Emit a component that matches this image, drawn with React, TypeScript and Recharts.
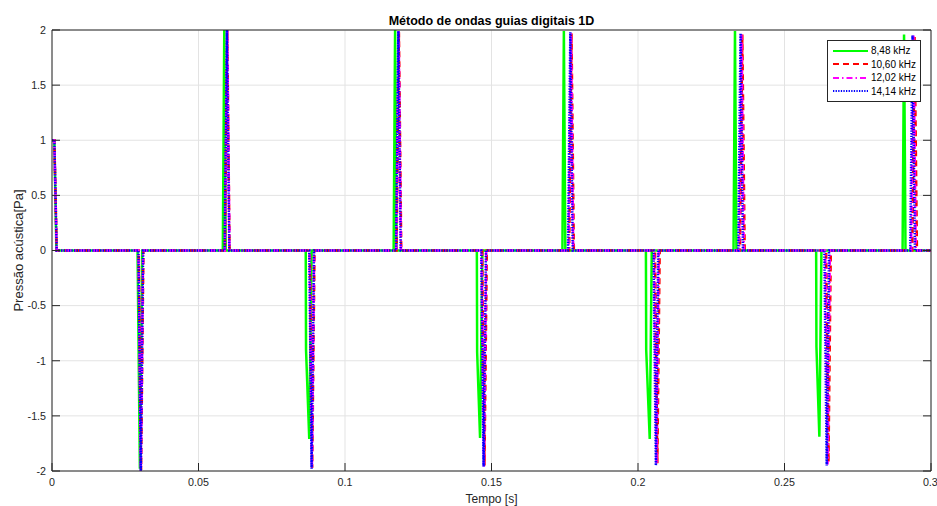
import { CartesianGrid, Legend, Line, LineChart, XAxis, YAxis } from 'recharts'

const titulo = 'Método de ondas guias digitais 1D'
const rotuloX = 'Tempo [s]'
const rotuloY = 'Pressão acústica[Pa]'

const xTicks = [0, 0.05, 0.1, 0.15, 0.2, 0.25, 0.3]
const yTicks = [-2, -1.5, -1, -0.5, 0, 0.5, 1, 1.5, 2]

// 8,48 kHz
const tempo848 = [
  0, 0.0008, 0.0015,
  0.0292, 0.03, 0.0308,
  0.0583, 0.0588, 0.0593,
  0.0866, 0.0867, 0.0878, 0.0886,
  0.1166, 0.1171, 0.1176,
  0.145, 0.1451, 0.1461, 0.1469,
  0.1742, 0.1747, 0.1752,
  0.2027, 0.2028, 0.204, 0.2047,
  0.2326, 0.2331, 0.2336,
  0.2608, 0.2609, 0.2619, 0.2626,
  0.2903, 0.2908, 0.2913,
  0.3,
]
const pressao848 = [
  1, 1, 0,
  0, -1.98, 0,
  0, 2, 0,
  0, -0.9, -1.71, 0,
  0, 2, 0,
  0, -0.92, -1.7, 0,
  0, 1.99, 0,
  0, -0.9, -1.71, 0,
  0, 1.99, 0,
  0, -0.87, -1.69, 0,
  0, 1.96, 0,
  0,
]

// 10,60 kHz
const tempo1060 = [
  0, 0.0008, 0.0016,
  0.0296, 0.0304, 0.0312,
  0.059, 0.0598, 0.0606,
  0.088, 0.0888, 0.0896,
  0.1176, 0.1184, 0.1192,
  0.1468, 0.1476, 0.1484,
  0.1765, 0.1773, 0.1781,
  0.2058, 0.2066, 0.2074,
  0.2348, 0.2356, 0.2364,
  0.2642, 0.265, 0.2658,
  0.2936, 0.2944, 0.2952,
  0.3,
]
const pressao1060 = [
  1, 1, 0,
  0, -1.99, 0,
  0, 2, 0,
  0, -1.97, 0,
  0, 1.98, 0,
  0, -1.95, 0,
  0, 1.97, 0,
  0, -1.93, 0,
  0, 1.96, 0,
  0, -1.92, 0,
  0, 1.94, 0,
  0,
]

// 12,02 kHz
const tempo1202 = [
  0, 0.0008, 0.0016,
  0.0295, 0.0303, 0.0311,
  0.059, 0.0598, 0.0606,
  0.0879, 0.0887, 0.0895,
  0.1175, 0.1183, 0.1191,
  0.1466, 0.1474, 0.1482,
  0.1763, 0.1771, 0.1779,
  0.2055, 0.2063, 0.2071,
  0.2345, 0.2353, 0.2361,
  0.2639, 0.2647, 0.2655,
  0.2932, 0.294, 0.2948,
  0.3,
]
const pressao1202 = [
  1, 1, 0,
  0, -2, 0,
  0, 2, 0,
  0, -1.97, 0,
  0, 1.99, 0,
  0, -1.96, 0,
  0, 1.97, 0,
  0, -1.94, 0,
  0, 1.96, 0,
  0, -1.94, 0,
  0, 1.95, 0,
  0,
]

// 14,14 kHz
const tempo1414 = [
  0, 0.0008, 0.0016,
  0.0295, 0.0303, 0.0311,
  0.0589, 0.0597, 0.0605,
  0.0878, 0.0886, 0.0894,
  0.1174, 0.1182, 0.119,
  0.1465, 0.1473, 0.1481,
  0.1761, 0.1769, 0.1777,
  0.2053, 0.2061, 0.2069,
  0.2342, 0.235, 0.2358,
  0.2636, 0.2644, 0.2652,
  0.2929, 0.2937, 0.2945,
  0.3,
]
const pressao1414 = [
  1, 1, 0,
  0, -2, 0,
  0, 2, 0,
  0, -1.98, 0,
  0, 1.99, 0,
  0, -1.96, 0,
  0, 1.98, 0,
  0, -1.95, 0,
  0, 1.97, 0,
  0, -1.95, 0,
  0, 1.95, 0,
  0,
]

const toPoints = (tempo: number[], pressao: number[]) =>
  tempo.map((t, i) => ({ t, p: pressao[i] }))

const series = [
  { name: '8,48 kHz', data: toPoints(tempo848, pressao848), color: '#00ff00', width: 2.5, dash: undefined },
  { name: '10,60 kHz', data: toPoints(tempo1060, pressao1060), color: '#ff0000', width: 2.5, dash: '6 4' },
  { name: '12,02 kHz', data: toPoints(tempo1202, pressao1202), color: '#ff00ff', width: 2.5, dash: '6 3 1.5 3' },
  { name: '14,14 kHz', data: toPoints(tempo1414, pressao1414), color: '#0000ff', width: 2.5, dash: '1.3 1.3' },
]

const FONT = '"Liberation Sans", Arial, Helvetica, sans-serif'
const AXIS = '#262626'

function Legenda() {
  return (
    <div
      style={{
        border: `1px solid ${AXIS}`,
        background: '#fff',
        padding: '3px 4px 3px 5px',
        boxSizing: 'border-box',
        width: 94,
        fontFamily: FONT,
        fontSize: 10,
        color: '#000',
      }}
    >
      {series.map((s) => (
        <div key={s.name} style={{ display: 'flex', alignItems: 'center', height: 13.5 }}>
          <svg width={35} height={6} style={{ display: 'block' }}>
            <line x1={0} x2={35} y1={3} y2={3} stroke={s.color} strokeWidth={2} strokeDasharray={s.dash} />
          </svg>
          <span style={{ marginLeft: 3, whiteSpace: 'nowrap' }}>{s.name}</span>
        </div>
      ))}
    </div>
  )
}

export default function App() {
  return (
    <div style={{ position: 'absolute', left: 0, top: 0, width: 937, height: 506, background: '#fff', fontFamily: FONT }}>
      <LineChart width={937} height={506} margin={{ top: 0, right: 0, bottom: 0, left: 0 }}>
        <CartesianGrid stroke="#e3e3e3" strokeWidth={1} />
        <XAxis
          type="number"
          dataKey="t"
          domain={[0, 0.3]}
          ticks={xTicks}
          allowDataOverflow
          height={35}
          tickSize={-8}
          tickMargin={15}
          stroke={AXIS}
          tick={{ fill: AXIS, fontSize: 10.7, fontFamily: FONT }}
          tickFormatter={(v) => String(v)}
          label={{
            content: () => (
              <text x={491.5} y={503} textAnchor="middle" fill={AXIS} fontSize={12} fontFamily={FONT}>
                {rotuloX}
              </text>
            ),
          }}
        />
        <XAxis
          xAxisId="top"
          orientation="top"
          type="number"
          domain={[0, 0.3]}
          ticks={xTicks}
          allowDataOverflow
          height={30}
          tickSize={-8}
          stroke={AXIS}
          tickFormatter={() => ''}
          label={{
            content: () => (
              <text x={491.5} y={24.5} textAnchor="middle" fill="#000" fontSize={12.5} fontWeight="bold" fontFamily={FONT}>
                {titulo}
              </text>
            ),
          }}
        />
        <YAxis
          type="number"
          domain={[-2, 2]}
          ticks={yTicks}
          allowDataOverflow
          width={52}
          tickSize={-8}
          tickMargin={14}
          stroke={AXIS}
          tick={{ fill: AXIS, fontSize: 10.7, fontFamily: FONT }}
          tickFormatter={(v) => String(v)}
          label={{
            content: () => (
              <text
                x={18}
                y={250.5}
                transform="rotate(-90 18 250.5)"
                textAnchor="middle"
                dominantBaseline="central"
                fill={AXIS}
                fontSize={13}
                fontFamily={FONT}
              >
                {rotuloY}
              </text>
            ),
          }}
        />
        <YAxis
          yAxisId="right"
          orientation="right"
          type="number"
          domain={[-2, 2]}
          ticks={yTicks}
          allowDataOverflow
          width={6}
          tickSize={-8}
          stroke={AXIS}
          tickFormatter={() => ''}
        />
        {series.map((s) => (
          <Line
            key={s.name}
            data={s.data}
            dataKey="p"
            name={s.name}
            type="linear"
            stroke={s.color}
            strokeWidth={s.width}
            strokeDasharray={s.dash}
            dot={false}
            activeDot={false}
            isAnimationActive={false}
          />
        ))}
        <Legend
          layout="vertical"
          align="center"
          verticalAlign="middle"
          content={() => <Legenda />}
          wrapperStyle={{ left: 827, top: 40, width: 94 }}
        />
      </LineChart>
    </div>
  )
}
